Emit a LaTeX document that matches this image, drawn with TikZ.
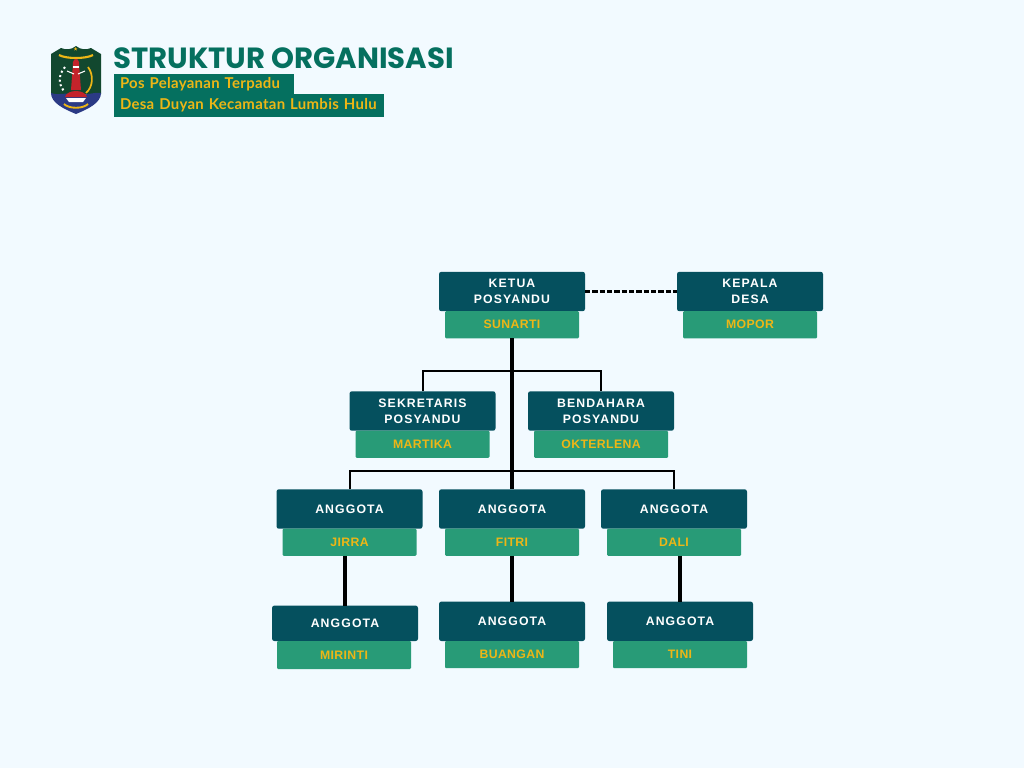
\documentclass[tikz,border=0pt]{standalone}
\usepackage{fontspec}
\setmainfont{Open Sans}
\newfontfamily\titlefont{Poppins}
\newfontfamily\subfont[LetterSpace=2]{Lato}
\newfontfamily\boxfont[LetterSpace=9]{Liberation Sans}
\newfontfamily\namefont[LetterSpace=3]{Liberation Sans}
\usetikzlibrary{positioning}
\definecolor{pagebg}{HTML}{F2FAFF}
\definecolor{rolebg}{HTML}{05505E}
\definecolor{namebg}{HTML}{289B77}
\definecolor{headbg}{HTML}{05705F}
\definecolor{gold}{HTML}{EDB616}
\definecolor{crestgreen}{HTML}{12482F}
\definecolor{crestblue}{HTML}{2B3A85}
\definecolor{crestred}{HTML}{C4232B}

\begin{document}
\begin{tikzpicture}[
  x=0.75pt, y=-0.75pt,
  rolebox/.style={fill=rolebg, rounded corners=1.8pt, text=white, align=center,
               minimum width=109.5pt, minimum height=29.6pt, inner sep=0pt, outer sep=0pt,
               font=\boxfont\fontsize{9.2}{12}\selectfont\bfseries},
  namebox/.style={fill=namebg, rounded corners=0.8pt, text=gold,
               minimum width=100.5pt, minimum height=20.3pt, inner sep=0pt, outer sep=0pt,
               font=\namefont\fontsize{9.2}{11}\selectfont\bfseries},
  link/.style={line width=1.5pt, black},
  trunk/.style={line width=2.3pt, black},
  tagbox/.style={fill=headbg, text=gold, inner sep=0pt, outer sep=0pt, anchor=west, align=left,
              execute at begin node=\hspace*{4.5pt},
              font=\subfont\fontsize{11.2}{12}\selectfont\bfseries},
]
\fill[pagebg] (0,0) rectangle (1024,768);
\useasboundingbox (0,0) rectangle (1024,768);

% crest
\fill[crestgreen] (51,54) -- (61,48) .. controls (66,50) and (71,50) .. (76,46)
  .. controls (81,50) and (86,50) .. (91,48) -- (101,54) -- (101,94)
  -- (51,94) -- cycle;
\fill[crestblue] (51,93) .. controls (60,96) and (66,92) .. (76,94)
  .. controls (86,96) and (92,92) .. (101,93)
  .. controls (101,103) and (88,109) .. (76,114)
  .. controls (64,109) and (51,103) .. (51,93) -- cycle;
\fill[gold] (75.5,47) -- (76.8,50.5) -- (73.8,48.4) -- (77.4,48.4) -- (74.4,50.5) -- cycle;
\draw[gold, line width=1.6pt] (59,55) .. controls (66,59) and (86,59) .. (93,55);
\draw[gold, line width=1.3pt] (88,67) .. controls (94,75) and (93,87) .. (86,93);
\draw[white, line width=1.5pt, dotted] (65,67) .. controls (58,75) and (58,85) .. (65,92);
\fill[crestred] (72.5,70) -- (73,62) .. controls (74,58) and (78,58) .. (79,62)
  -- (79.5,70) -- (81,90) -- (71,90) -- cycle;
\fill[white] (73,66) rectangle (79,68);
\draw[white, line width=0.8pt] (67,71) -- (74,74) (85,71) -- (78,74);
\fill[crestred] (65,97) .. controls (67,89) and (85,89) .. (87,97) -- cycle;
\fill[white] (66,98) -- (86,98) -- (83,102) -- (69,102) -- cycle;
\draw[gold, line width=1.4pt] (64,104) .. controls (69,109) and (83,109) .. (88,104);

% header
\node[anchor=west, text=headbg, inner sep=0pt, font=\titlefont\fontsize{21.9}{24}\selectfont\bfseries]
  (title) at (113,58) {STRUKTUR ORGANISASI};
\node[tagbox, minimum height=15pt, text width=135pt] (posyandu) at (114,84.3)
  {Pos Pelayanan Terpadu};
\node[tagbox, minimum height=16.8pt, text width=202.5pt] (desa) at (114,105.5)
  {Desa Duyan Kecamatan Lumbis Hulu};

% roles
\node[rolebox] (ketua)      at (512,291.5) {KETUA\\POSYANDU};
\node[rolebox] (kepala)     at (750,291.5) {KEPALA\\DESA};
\node[rolebox] (sekretaris) at (422.5,411) {SEKRETARIS\\POSYANDU};
\node[rolebox] (bendahara)  at (601,411)   {BENDAHARA\\POSYANDU};
\node[rolebox] (jirra)      at (349.5,509) {ANGGOTA};
\node[rolebox] (fitri)      at (512,509)   {ANGGOTA};
\node[rolebox] (dali)       at (674,509)   {ANGGOTA};
\node[rolebox, minimum height=26.6pt] (mirinti) at (345,623.3) {ANGGOTA};
\node[rolebox] (buangan)    at (512,621.3) {ANGGOTA};
\node[rolebox] (tini)       at (680,621.3) {ANGGOTA};

% names
\node[namebox, below=0pt of ketua]      (nsunarti)  {SUNARTI};
\node[namebox, below=0pt of kepala]     (nmopor)    {MOPOR};
\node[namebox, below=0pt of sekretaris] (nmartika)  {MARTIKA};
\node[namebox, below=0pt of bendahara]  (nokter)    {OKTERLENA};
\node[namebox, below=0pt of jirra]      (njirra)    {JIRRA};
\node[namebox, below=0pt of fitri]      (nfitri)    {FITRI};
\node[namebox, below=0pt of dali]       (ndali)     {DALI};
\node[namebox, below=0pt of mirinti, xshift=-0.75pt, minimum height=21pt] (nmirinti) {MIRINTI};
\node[namebox, below=0pt of buangan]    (nbuangan)  {BUANGAN};
\node[namebox, below=0pt of tini]       (ntini)     {TINI};

% branches
\coordinate (top)  at (512,371);
\coordinate (low)  at (512,470.5);

\draw[link, line width=1.7pt, dash pattern=on 4pt off 1.5pt] (ketua) -- (kepala);
\draw[trunk] (nsunarti) -- (fitri);
\draw[link] (sekretaris) |- (top) -| (bendahara);
\draw[link] (jirra) |- (low) -| (dali);
\draw[trunk] (njirra.south -| mirinti) -- (mirinti);
\draw[trunk] (nfitri) -- (buangan);
\draw[trunk] (ndali.south -| tini) -- (tini);
\end{tikzpicture}
\end{document}
